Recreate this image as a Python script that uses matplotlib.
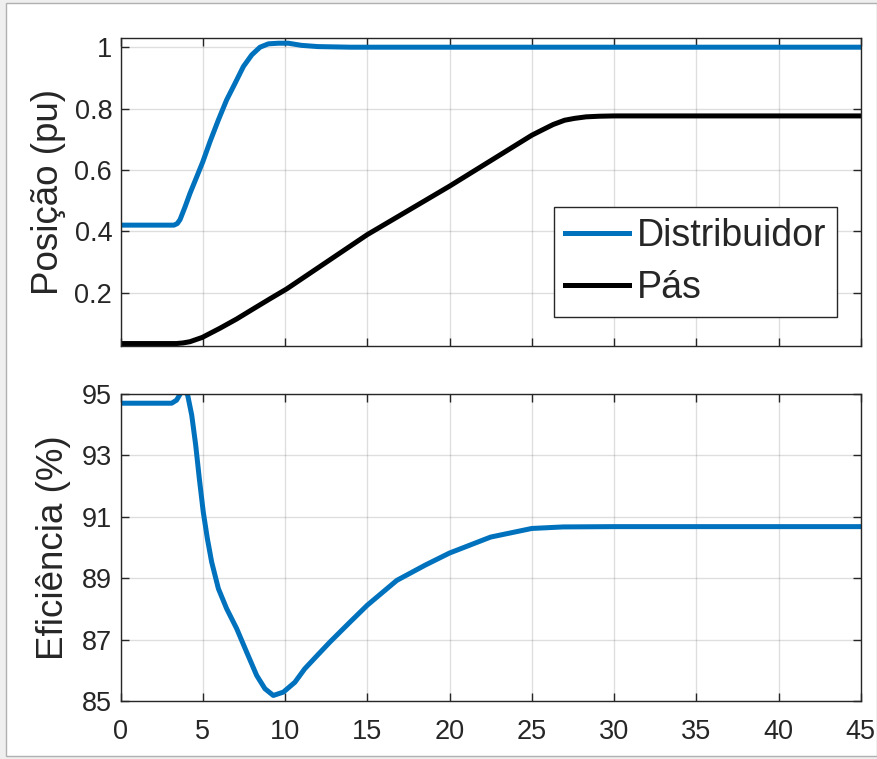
import numpy as np
import matplotlib
matplotlib.use("Agg")
import matplotlib.pyplot as plt
from matplotlib.patches import Rectangle

# position (pu)
t_dist = [0, 3.25, 3.45, 3.62, 3.92, 4.22, 4.63, 5.0, 5.44, 5.95, 6.45, 6.96,
          7.47, 7.98, 8.48, 8.99, 9.6, 10.2, 11.0, 12.0, 14.0, 45]
v_dist = [0.42, 0.42, 0.425, 0.438, 0.479, 0.523, 0.577, 0.626, 0.692,
          0.763, 0.828, 0.882, 0.937, 0.975, 1.0, 1.011, 1.013, 1.013,
          1.006, 1.002, 1.0, 1.0]

t_pas = [0, 3.4, 3.8, 4.22, 4.97, 6.05, 7.06, 8.07, 9.09, 10.1, 15, 20, 25,
         25.7, 26.3, 27, 27.6, 28.3, 29.1, 30, 45]
v_pas = [0.034, 0.034, 0.036, 0.040, 0.054, 0.084, 0.114, 0.147, 0.180,
         0.212, 0.389, 0.547, 0.713, 0.732, 0.748, 0.762, 0.768, 0.773,
         0.775, 0.776, 0.776]

# efficiency (%)
t_ef = [0, 3.11, 3.41, 3.68, 3.9, 4.08, 4.33, 4.57, 4.79, 5.03, 5.28, 5.54,
        5.95, 6.45, 7.06, 7.67, 8.28, 8.78, 9.29, 9.9, 10.6, 11.2, 11.9,
        12.73, 13.95, 15, 16.8, 18.5, 20, 22.5, 25, 26.9, 30, 45]
ef = [94.7, 94.7, 94.8, 95.05, 95.1, 94.97, 94.31, 93.34, 92.25, 91.16,
      90.29, 89.53, 88.66, 88.01, 87.36, 86.59, 85.83, 85.40, 85.18, 85.29,
      85.61, 86.05, 86.45, 86.92, 87.57, 88.12, 88.93, 89.42, 89.82, 90.34,
      90.62, 90.67, 90.68, 90.68]

x_ticks = np.arange(0, 46, 5)
blue = "#0072BD"
dark = "#262626"

plt.rcParams["font.family"] = ["Liberation Sans", "DejaVu Sans"]
plt.rcParams["text.color"] = dark
plt.rcParams["axes.labelcolor"] = dark
plt.rcParams["xtick.color"] = dark
plt.rcParams["ytick.color"] = dark

W, H = 877, 759
fig = plt.figure(figsize=(W / 100, H / 100), dpi=100)
fig.patch.set_facecolor("#efefef")
frame = Rectangle((6 / W, 3 / H), (W - 6) / W, (H - 6) / H,
                  transform=fig.transFigure, facecolor="white",
                  edgecolor="#b0b0b0", linewidth=1.0, zorder=-10)
fig.add_artist(frame)

ax1 = fig.add_axes([120.5 / W, 1 - 346 / H, 740.3 / W, 308 / H])
ax2 = fig.add_axes([120.5 / W, 1 - 701 / H, 740.3 / W, 307 / H])

ax1.plot(t_dist, v_dist, color=blue, lw=3.6, label="Distribuidor",
         solid_joinstyle="round")
ax1.plot(t_pas, v_pas, color="black", lw=3.6, label="Pás",
         solid_joinstyle="round")
ax1.set_xlim(0, 45)
ax1.set_ylim(0.026, 1.03)
ax1.set_yticks([0.2, 0.4, 0.6, 0.8, 1.0])
ax1.set_yticklabels(["0.2", "0.4", "0.6", "0.8", "1"])
ax1.set_xticks(x_ticks)
ax1.set_xticklabels([])
ax1.set_ylabel("Posição (pu)", fontsize=26.5, labelpad=6)
leg = ax1.legend(loc="upper left", bbox_to_anchor=(0.5856, 0.451),
                 borderaxespad=0, fontsize=27, handlelength=1.7,
                 handletextpad=0.2, labelspacing=0.42, borderpad=0.3,
                 fancybox=False, framealpha=1)
leg.get_frame().set_edgecolor(dark)
leg.get_frame().set_linewidth(1.0)

ax2.plot(t_ef, ef, color=blue, lw=3.6, solid_joinstyle="round")
ax2.set_xlim(0, 45)
ax2.set_ylim(85, 95)
ax2.set_yticks([85, 87, 89, 91, 93, 95])
ax2.set_xticks(x_ticks)
ax2.set_ylabel("Eficiência (%)", fontsize=26.5, labelpad=8)

for ax in (ax1, ax2):
    ax.set_facecolor("white")
    ax.grid(True, color=dark, alpha=0.15, lw=1.0)
    ax.set_axisbelow(True)
    ax.tick_params(direction="in", length=5.5, width=1.0, labelsize=19.5,
                   top=True, right=True, pad=6)
    ax.tick_params(axis="x", pad=13)
    for s in ax.spines.values():
        s.set_color(dark)
        s.set_linewidth(1.0)

fig.savefig("out.png", dpi=100, facecolor=fig.get_facecolor())
